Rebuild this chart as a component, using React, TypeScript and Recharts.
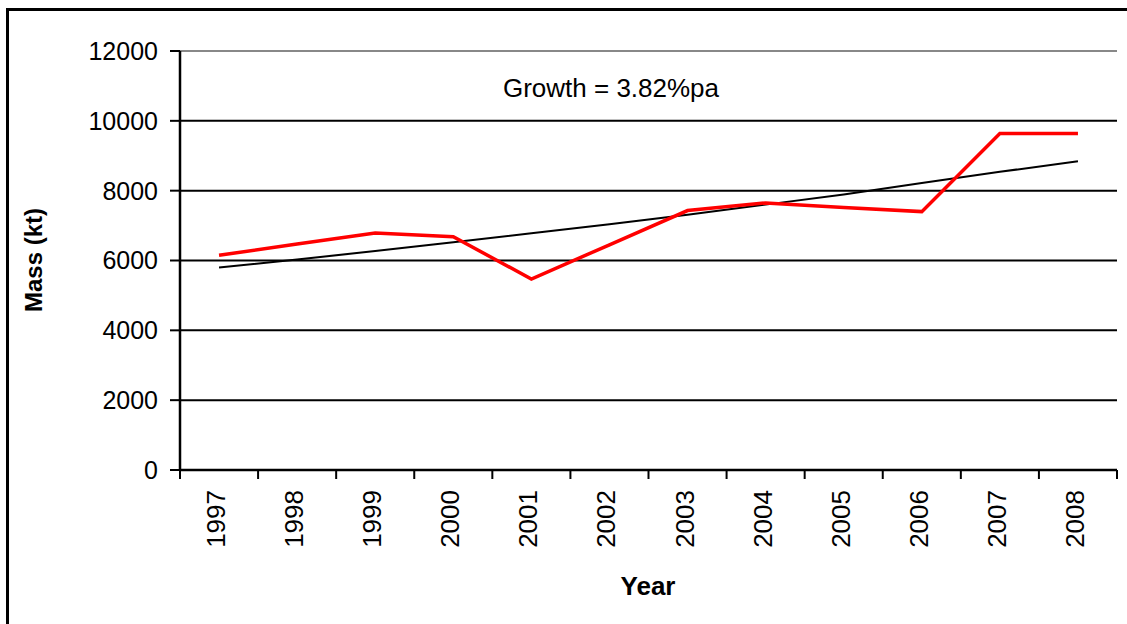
import React from "react";
import {
  LineChart, Line, XAxis, YAxis, CartesianGrid, ReferenceLine,
} from "recharts";

const years = [1997, 1998, 1999, 2000, 2001, 2002, 2003, 2004, 2005, 2006, 2007, 2008];
const mass = [6150, 6470, 6790, 6680, 5470, 6450, 7430, 7650, 7520, 7400, 9640, 9640];
const trend = [5800, 6030, 6270, 6520, 6780, 7040, 7310, 7600, 7890, 8220, 8540, 8840];
const massTicks = [0, 2000, 4000, 6000, 8000, 10000, 12000];
const yearEdges = [1996.5, 1997.5, 1998.5, 1999.5, 2000.5, 2001.5, 2002.5, 2003.5, 2004.5, 2005.5, 2006.5, 2007.5, 2008.5];

const data = years.map((year, i) => ({ year, mass: mass[i], trend: trend[i] }));

const FONT = "'Liberation Sans', Arial, sans-serif";

function YearTick({ x, y, payload }: { x?: number; y?: number; payload?: { value: number } }) {
  const tx = (x ?? 0) + 6;
  return (
    <text
      x={tx}
      y={y}
      textAnchor="end"
      transform={`rotate(-90, ${tx}, ${y})`}
      fontSize={26}
      fontFamily={FONT}
      fill="#000"
    >
      {payload?.value}
    </text>
  );
}

export default function App() {
  return (
    <div style={{ position: "absolute", left: 0, top: 0, width: 1127, height: 624, overflow: "hidden", background: "#fff" }}>
      <div style={{ position: "absolute", left: 6, top: 8, width: 1300, height: 800, border: "3px solid #000" }} />
      <div style={{ position: "absolute", left: 0, top: 0 }}>
        <LineChart width={1127} height={624} data={data} margin={{ top: 51, right: 10, bottom: 24, left: 14 }}>
          <CartesianGrid vertical={false} stroke="#000" strokeWidth={2} />
          <XAxis
            xAxisId="edges"
            dataKey="year"
            type="number"
            domain={[1996.5, 2008.5]}
            ticks={yearEdges}
            tickFormatter={() => ""}
            height={10}
            tickSize={9}
            axisLine={{ stroke: "#000", strokeWidth: 2.5 }}
            tickLine={{ stroke: "#000", strokeWidth: 2 }}
          />
          <XAxis
            xAxisId="years"
            dataKey="year"
            type="number"
            domain={[1996.5, 2008.5]}
            ticks={years}
            interval={0}
            height={120}
            tickSize={0}
            tickMargin={10}
            axisLine={false}
            tickLine={false}
            tick={<YearTick />}
          />
          <YAxis
            domain={[0, 12000]}
            ticks={massTicks}
            width={166}
            tickSize={10}
            tickMargin={12}
            interval={0}
            axisLine={{ stroke: "#000", strokeWidth: 2.5 }}
            tickLine={{ stroke: "#000", strokeWidth: 2 }}
            tick={{ fontSize: 25, fontFamily: FONT, fill: "#000" }}
          />
          <YAxis
            yAxisId="right"
            orientation="right"
            domain={[0, 12000]}
            width={0}
            tick={false}
            tickLine={false}
            axisLine={{ stroke: "#888", strokeWidth: 1.5 }}
          />
          <ReferenceLine xAxisId="edges" y={12000} stroke="#888" strokeWidth={2} />
          <Line
            xAxisId="edges"
            dataKey="trend"
            type="linear"
            stroke="#000"
            strokeWidth={2}
            dot={false}
            isAnimationActive={false}
          />
          <Line
            xAxisId="edges"
            dataKey="mass"
            type="linear"
            stroke="#ff0000"
            strokeWidth={3.5}
            dot={false}
            isAnimationActive={false}
          />
        </LineChart>
      </div>
      <svg width={1127} height={624} style={{ position: "absolute", left: 0, top: 0, pointerEvents: "none" }}>
        <text x={611} y={97} textAnchor="middle" fontSize={26} fontFamily={FONT} fill="#000">
          Growth = 3.82%pa
        </text>
        <text
          x={42}
          y={260}
          textAnchor="middle"
          transform="rotate(-90, 42, 260)"
          fontSize={24}
          fontWeight="bold"
          fontFamily={FONT}
          fill="#000"
        >
          Mass (kt)
        </text>
        <text x={648} y={595} textAnchor="middle" fontSize={26} fontWeight="bold" fontFamily={FONT} fill="#000">
          Year
        </text>
      </svg>
    </div>
  );
}
